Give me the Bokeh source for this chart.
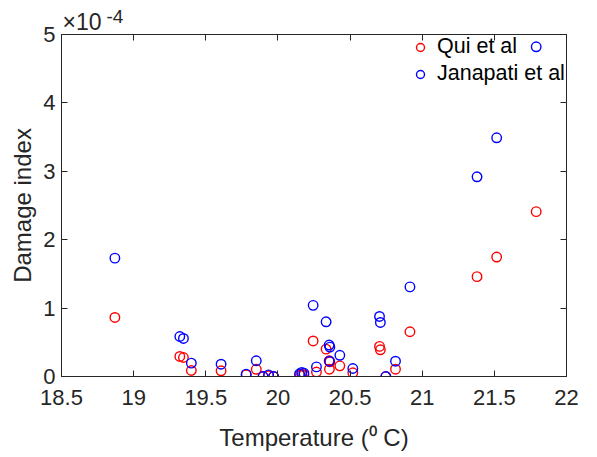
from bokeh.plotting import figure
from bokeh.models import Range1d, FixedTicker, LinearAxis, Label
from bokeh.embed import file_html
from bokeh.resources import INLINE

# Temperature (deg C) and damage index (in units of 1e-4, as on the axis)
temp_qui = [18.87, 19.32, 19.345, 19.40, 19.606, 19.78, 19.85, 19.897, 19.935, 19.97,
            20.15, 20.165, 20.18, 20.244, 20.267, 20.334, 20.355, 20.36, 20.357, 20.429,
            20.519, 20.704, 20.71, 20.748, 20.815, 20.915, 21.38, 21.516, 21.79]
damage_qui = [0.863, 0.293, 0.278, 0.088, 0.083, 0.024, 0.105, 0.0, 0.012, 0.0,
              0.02, 0.03, 0.025, 0.52, 0.065, 0.40, 0.23, 0.215, 0.107, 0.156,
              0.055, 0.44, 0.39, 0.0, 0.107, 0.654, 1.46, 1.746, 2.41]

temp_janapati = [18.87, 19.32, 19.345, 19.40, 19.606, 19.78, 19.85, 19.897, 19.935, 19.97,
                 20.15, 20.165, 20.18, 20.244, 20.267, 20.334, 20.355, 20.36, 20.357, 20.429,
                 20.519, 20.704, 20.71, 20.748, 20.815, 20.915, 21.38, 21.516, 21.79]
damage_janapati = [1.73, 0.585, 0.556, 0.195, 0.18, 0.034, 0.23, 0.0, 0.024, 0.0,
                   0.04, 0.06, 0.05, 1.04, 0.14, 0.80, 0.46, 0.43, 0.224, 0.31,
                   0.117, 0.878, 0.79, 0.0, 0.224, 1.31, 2.92, 3.49, 4.82]

x_ticks = [18.5, 19, 19.5, 20, 20.5, 21, 21.5, 22]
y_ticks = [0, 1, 2, 3, 4, 5]

FONT = "Liberation Sans"
AX = "#262626"

p = figure(width=597, height=457, output_backend="svg", toolbar_location=None,
           x_range=Range1d(18.5, 22), y_range=Range1d(0, 5),
           min_border_left=61, min_border_right=31, min_border_top=34, min_border_bottom=81)

p.add_layout(LinearAxis(), "above")
p.add_layout(LinearAxis(), "right")

p.grid.visible = False
p.outline_line_color = AX
p.outline_line_width = 1

for ax in p.xaxis:
    ax.ticker = FixedTicker(ticks=x_ticks)
for ax in p.yaxis:
    ax.ticker = FixedTicker(ticks=y_ticks)

for ax in p.axis:
    ax.axis_line_color = AX
    ax.major_tick_line_color = AX
    ax.major_tick_in = 6
    ax.major_tick_out = 0
    ax.minor_tick_line_color = None
    ax.major_label_text_font = FONT
    ax.major_label_text_font_size = "22px"
    ax.major_label_text_color = AX
    ax.axis_label_text_font = FONT
    ax.axis_label_text_font_size = "24px"
    ax.axis_label_text_font_style = "normal"
    ax.axis_label_text_color = AX

for ax in (p.above[0], p.right[0]):
    ax.major_label_text_font_size = "1px"
    ax.major_label_text_color = None
    ax.major_label_standoff = 0

p.below[0].axis_label = "Temperature (\u2070 C)"
p.below[0].major_label_standoff = 13
p.below[0].axis_label_standoff = 16
p.left[0].axis_label = "Damage index"
p.left[0].major_label_standoff = 6
p.left[0].axis_label_standoff = 4

# axis multiplier "x10^-4" at the top-left corner of the axes
p.title.text = "\u00d710"
p.title.align = "left"
p.title.offset = 1
p.title.standoff = 0
p.title.text_font = FONT
p.title.text_font_size = "23px"
p.title.text_font_style = "normal"
p.title.text_color = AX

p.add_layout(Label(x=-460, y=360, x_units="screen", y_units="screen", text="-4",
                   text_font=FONT, text_font_size="19px", text_color=AX,
                   text_baseline="alphabetic", text_align="left"), "right")

p.scatter(temp_qui, damage_qui, marker="circle", size=9.5, fill_color=None,
          line_color="#FF0000", line_width=1.4, legend_label="Qui et al")
p.scatter(temp_janapati, damage_janapati, marker="circle", size=9.5, fill_color=None,
          line_color="#0000FF", line_width=1.4, legend_label="Janapati et al")

lg = p.legend[0]
lg.location = "top_right"
lg.border_line_color = None
lg.background_fill_alpha = 0
lg.label_text_font = FONT
lg.label_text_font_size = "21.5px"
lg.label_text_color = "#000000"
lg.glyph_width = 20
lg.glyph_height = 20
lg.label_width = 129
lg.label_height = 25
lg.label_standoff = 7
lg.padding = 9
lg.margin = 0
lg.spacing = 2

open("out.html", "w").write(file_html(p, INLINE))
